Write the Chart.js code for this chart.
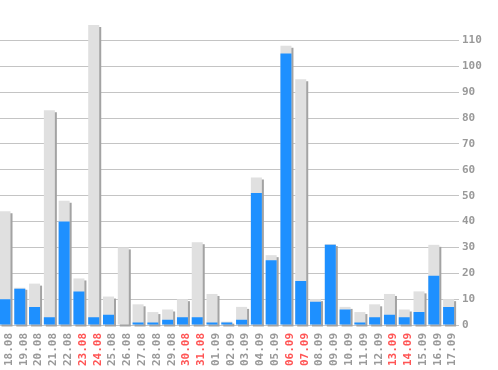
<!DOCTYPE html>
<html><head><meta charset="utf-8">
<script src="https://cdn.jsdelivr.net/npm/chart.js@4.4.1/dist/chart.umd.min.js"></script>
<style>
html,body{margin:0;padding:0;background:#fff;overflow:hidden;width:498px;height:370px}
#wrap{position:absolute;left:-3px;top:0;width:501px;height:370px}
</style>
</head><body>
<div id="wrap"><canvas id="c"></canvas></div>
<script>
const categories = ['18.08','19.08','20.08','21.08','22.08','23.08','24.08','25.08','26.08','27.08','28.08','29.08','30.08','31.08','01.09','02.09','03.09','04.09','05.09','06.09','07.09','08.09','09.09','10.09','11.09','12.09','13.09','14.09','15.09','16.09','17.09'];
const totals = [44, 14.4, 16, 83, 48, 18, 116, 11, 30, 8, 5, 6, 10, 32, 12, 1.3, 7, 57, 27, 108, 95, 10, 31.3, 7, 5, 8, 12, 6, 13, 31, 10];
const blues  = [10, 14, 7, 3, 40, 13, 3, 4, 0, 1, 1, 2, 3, 3, 1, 1, 2, 51, 25, 105, 17, 9, 31, 6, 1, 3, 4, 3, 5, 19, 7];
const redLabels = ['23.08','24.08','30.08','31.08','06.09','07.09','13.09','14.09'];
const yMax = 116;
const yStep = 10;

const shadowPlugin = {
  id: 'barShadow',
  beforeDatasetDraw(chart, args) {
    if (args.index === 1) {
      const ctx = chart.ctx;
      ctx.save();
      ctx.shadowColor = '#a3a3a3';
      ctx.shadowOffsetX = 2;
      ctx.shadowOffsetY = 2;
      ctx.shadowBlur = 0;
    }
  },
  afterDatasetDraw(chart, args) {
    if (args.index === 1) chart.ctx.restore();
  }
};

const font = {family: '"DejaVu Sans Mono", monospace', size: 11, weight: 'bold'};

new Chart(document.getElementById('c'), {
  type: 'bar',
  data: {
    labels: categories,
    datasets: [
      {data: blues, backgroundColor: '#1e90ff', grouped: false, barPercentage: 0.745, categoryPercentage: 1, borderWidth: 0},
      {data: totals, backgroundColor: '#e0e0e0', grouped: false, barPercentage: 0.745, categoryPercentage: 1, borderWidth: 0, clip: false}
    ]
  },
  options: {
    responsive: true,
    maintainAspectRatio: false,
    animation: false,
    layout: {padding: {top: 25, left: 0, right: 0, bottom: 0}},
    plugins: {legend: {display: false}, tooltip: {enabled: false}},
    scales: {
      x: {
        grid: {display: false, drawTicks: false},
        border: {display: false},
        ticks: {
          autoSkip: false, maxRotation: 90, minRotation: 90, padding: 8, labelOffset: 4,
          font: font,
          color: (c) => redLabels.includes(categories[c.index]) ? '#ff5555' : '#999999'
        },
        afterFit: (s) => { s.height = 45; }
      },
      y: {
        position: 'right',
        min: 0, max: yMax,
        border: {display: false},
        grid: {color: '#c4c4c4', lineWidth: 1, tickLength: 3, drawTicks: true},
        ticks: {stepSize: yStep, padding: 3, font: font, color: '#999999'},
        afterBuildTicks: (s) => { s.ticks = s.ticks.filter(t => t.value % yStep === 0); },
        afterFit: (s) => { s.width = 42; }
      }
    }
  },
  plugins: [shadowPlugin]
});
</script>
</body></html>
